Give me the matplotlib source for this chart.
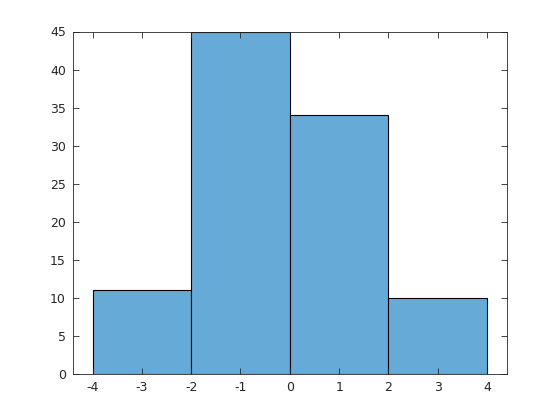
import matplotlib
matplotlib.use('Agg')
import matplotlib.pyplot as plt

bin_edges = [-4, -2, 0, 2, 4]
counts = [11, 45, 34, 10]
x_ticks = [-4, -3, -2, -1, 0, 1, 2, 3, 4]
y_ticks = [0, 5, 10, 15, 20, 25, 30, 35, 40, 45]

fig = plt.figure(figsize=(5.6, 4.2), dpi=100)
ax = fig.add_axes([0.13, 0.11, 0.775, 0.815])

ax.hist(bin_edges[:-1], bins=bin_edges, weights=counts,
        color='#66aad7', edgecolor='black', linewidth=0.8)

ax.set_xlim(-4.4, 4.4)
ax.set_ylim(0, 45)
ax.set_xticks(x_ticks)
ax.set_yticks(y_ticks)
ax.set_xticklabels([str(t) for t in x_ticks])
ax.tick_params(direction='in', top=True, right=True, length=4, width=0.6,
               labelsize=9, colors='#262626', pad=5)
for s in ax.spines.values():
    s.set_linewidth(0.6)
    s.set_color('#262626')

fig.savefig('out.png', dpi=100, facecolor='white')
